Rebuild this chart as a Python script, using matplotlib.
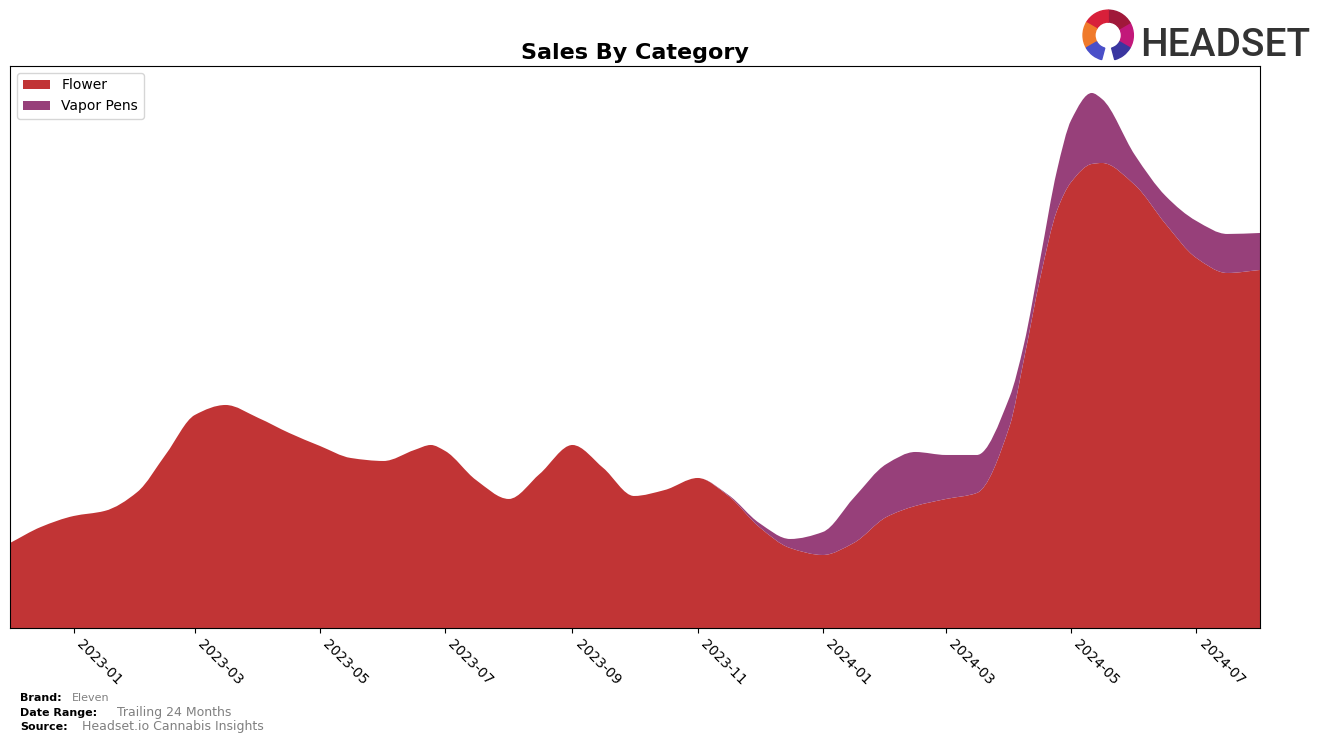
import matplotlib
matplotlib.use("Agg")
import matplotlib.pyplot as plt
import matplotlib.dates as mdates
from matplotlib.patches import Wedge, PathPatch
from matplotlib.path import Path
import numpy as np
import pandas as pd

# Samples (roughly twice a month, plus a few at the peaks)
dates = ["2022-12-01", "2022-12-16", "2023-01-01", "2023-01-16", "2023-02-01",
         "2023-02-15", "2023-03-01", "2023-03-16", "2023-04-01", "2023-04-16",
         "2023-05-01", "2023-05-16", "2023-06-01", "2023-06-16", "2023-06-24",
         "2023-07-01", "2023-07-16", "2023-08-01", "2023-08-16", "2023-09-01",
         "2023-09-16", "2023-10-01", "2023-10-16", "2023-11-01", "2023-11-16",
         "2023-12-01", "2023-12-16", "2024-01-01", "2024-01-16", "2024-02-01",
         "2024-02-15", "2024-03-01", "2024-03-16", "2024-04-01", "2024-04-08",
         "2024-04-16", "2024-04-24", "2024-05-01", "2024-05-11", "2024-05-16",
         "2024-06-01", "2024-06-16", "2024-07-01", "2024-07-16", "2024-08-01"]

flower = [85, 101, 112, 117, 136, 174, 213, 223, 210, 195,
          182, 170, 167, 178, 183, 177, 148, 129, 154, 183,
          160, 132, 138, 150, 132, 101, 80, 73, 85, 111,
          122, 129, 135, 202, 269, 351, 417, 446, 464, 465,
          443, 404, 370, 355, 358]

vapor_pens = [0, 0, 0, 0, 0, 0, 0, 0, 0, 0,
              0, 0, 0, 0, 0, 0, 0, 0, 0, 0,
              0, 0, 0, 0, 1, 4, 9, 23, 45, 53,
              54, 44, 38, 29, 15, 19, 40, 62, 71, 64,
              30, 28, 37, 39, 37]

labels = ["Flower", "Vapor Pens"]
colors = ["#c13435", "#97407a"]


def slopes(xs, ys):
    # monotone (pchip-like) tangents, so flat stretches stay flat
    n = len(xs)
    h = np.diff(xs)
    d = np.diff(ys) / h
    m = np.zeros(n)
    m[0] = d[0]
    m[-1] = d[-1]
    for i in range(1, n - 1):
        if d[i - 1] * d[i] <= 0:
            m[i] = 0.0
        else:
            w1 = 2 * h[i] + h[i - 1]
            w2 = h[i] + 2 * h[i - 1]
            m[i] = (w1 + w2) / (w1 / d[i - 1] + w2 / d[i])
    return m


def smooth_curve(xs, ys):
    m = slopes(xs, ys)
    verts = [(xs[0], ys[0])]
    for i in range(len(xs) - 1):
        dx = xs[i + 1] - xs[i]
        verts.append((xs[i] + dx / 3, ys[i] + m[i] * dx / 3))
        verts.append((xs[i + 1] - dx / 3, ys[i + 1] - m[i + 1] * dx / 3))
        verts.append((xs[i + 1], ys[i + 1]))
    return verts


def band(ax, xs, lower, upper, **kw):
    top = smooth_curve(xs, upper)
    bot = smooth_curve(xs[::-1], lower[::-1])
    verts = top + bot + [top[0]]
    codes = ([Path.MOVETO] + [Path.CURVE4] * (len(top) - 1) +
             [Path.LINETO] + [Path.CURVE4] * (len(bot) - 1) + [Path.CLOSEPOLY])
    patch = PathPatch(Path(verts, codes), lw=0, **kw)
    ax.add_patch(patch)
    return patch


x = mdates.date2num(pd.to_datetime(dates))
f = np.array(flower, dtype=float)
v = np.array(vapor_pens, dtype=float)

fig = plt.figure(figsize=(13.24, 7.43), dpi=100)
ax = fig.add_axes([0.0076, 0.1548, 0.9441, 0.7564])

band(ax, x, np.zeros_like(f), f, facecolor=colors[0], label=labels[0])
band(ax, x, f, f + v, facecolor=colors[1], label=labels[1])

ax.set_xlim(x[0], x[-1])
ax.set_ylim(0, 562)
ax.set_yticks([])

ax.xaxis.set_major_locator(mdates.MonthLocator(bymonth=[1, 3, 5, 7, 9, 11]))
ax.xaxis.set_major_formatter(mdates.DateFormatter("%Y-%m"))
plt.setp(ax.get_xticklabels(), rotation=-45, ha="left", fontsize=10)

ax.set_title("Sales By Category", fontsize=16, fontweight="bold", pad=5)
ax.legend(loc="upper left", fontsize=10)

# Footer
fig.text(0.015, 0.056, "Brand:", fontsize=8, fontweight="bold")
fig.text(0.054, 0.056, "Eleven", fontsize=8, color="gray")
fig.text(0.015, 0.036, "Date Range:", fontsize=8, fontweight="bold")
fig.text(0.088, 0.036, "Trailing 24 Months", fontsize=9, color="gray")
fig.text(0.015, 0.018, "Source:", fontsize=8, fontweight="bold")
fig.text(0.062, 0.018, "Headset.io Cannabis Insights", fontsize=9, color="gray")

# Logo
fig.text(0.861, 0.9246, "HEADSET", fontsize=28, color="#333333",
         fontweight="medium", family=["Roboto", "DejaVu Sans"])
lax = fig.add_axes([0.817, 0.915, 0.04, 0.075])
lax.set_xlim(-1, 1)
lax.set_ylim(-1, 1)
lax.set_aspect("equal")
lax.axis("off")
seg_colors = ["#c2187a", "#a0183a", "#d8203a", "#f07a2a", "#4a4fc8", "#3a36a0"]
angles = [(-30, 30), (30, 90), (90, 150), (150, 210), (210, 255), (285, 330)]
for (a1, a2), c in zip(angles, seg_colors):
    lax.add_patch(Wedge((0, 0), 0.95, a1, a2, width=0.45, color=c))

fig.savefig("out.png", dpi=100)
